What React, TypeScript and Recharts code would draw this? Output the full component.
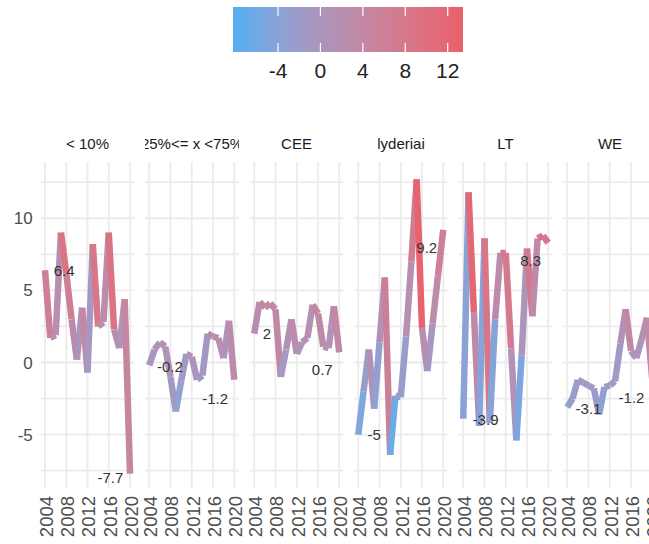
import React from 'react';
import { LineChart, Line, XAxis, YAxis, CartesianGrid, ReferenceDot } from 'recharts';

// values, one per year
const years = [2004, 2005, 2006, 2007, 2008, 2009, 2010, 2011, 2012, 2013, 2014, 2015, 2016, 2017, 2018, 2019, 2020];
const panelNames = ['< 10%', '25%<= x <75%', 'CEE', 'lyderiai', 'LT', 'WE'];
const under10 = [6.4, 1.7, 1.9, 9.0, 6.2, 3.0, 0.2, 3.8, -0.7, 8.2, 2.5, 2.8, 9.0, 2.3, 1.0, 4.4, -7.7];
const mid25to75 = [-0.2, 0.9, 1.4, 1.1, -1.0, -3.4, -1.3, 0.6, 0.4, -1.2, -0.9, 2.0, 1.8, 1.7, 0.3, 2.9, -1.2];
const cee = [2.0, 4.2, 3.8, 4.1, 3.7, -1.0, 0.9, 3.0, 0.6, 1.4, 1.7, 4.0, 3.4, 1.1, 1.0, 3.9, 0.7];
const lyderiai = [-5.0, -2.0, 0.9, -3.2, 1.4, 5.9, -6.4, -2.3, -2.4, 1.8, 7.0, 12.7, 2.4, -0.6, 2.7, 6.0, 9.2];
const lt = [-3.9, 11.8, 3.5, -4.4, 8.6, -4.2, 3.0, 7.6, 7.6, 1.0, -5.4, 0.5, 7.9, 3.2, 8.6, 8.8, 8.3];
const we = [-3.1, -2.5, -1.2, -1.4, -1.6, -1.8, -3.6, -1.7, -1.6, -1.3, 1.3, 3.7, 0.8, 0.3, 1.6, 3.1, -1.2];
const panelValues = [under10, mid25to75, cee, lyderiai, lt, we];

const yearTicks = [2004, 2008, 2012, 2016, 2020];
const valueTicks = [-5, 0, 5, 10];
const gridValues = [-7.5, -5, -2.5, 0, 2.5, 5, 7.5, 10, 12.5];
const legendTicks = [-4, 0, 4, 8, 12];
const colourLimits = [-7.7, 12.9];

// where the first / last value labels sit, relative to their point (years, value units)
const firstNudge = [[3.6, 0], [3.9, -0.05], [2.4, 0], [3.0, 0], [4.2, -0.05], [4.0, -0.1]];
const lastNudge = [[-3.7, -0.3], [-3.6, -1.3], [-3.2, -1.2], [-3.1, -1.2], [-3.3, -1.2], [-3.9, -1.2]];

const LOW = '#58AEEE';
const HIGH = '#E8626E';

const PLOT_LEFT = 40.75;
const PANEL_STEP = 104.5;
const PLOT_W = 93.5;
const AXIS_W = 40.75;
const PAD = 5;
const CHART_TOP = 152;

// --- Lab interpolation like scales::seq_gradient_pal
function hexToRgb(h: string) {
  const n = parseInt(h.slice(1), 16);
  return [(n >> 16) & 255, (n >> 8) & 255, n & 255];
}
const toLin = (c: number) => {
  c /= 255;
  return c <= 0.04045 ? c / 12.92 : Math.pow((c + 0.055) / 1.055, 2.4);
};
const fromLin = (c: number) => {
  const v = c <= 0.0031308 ? 12.92 * c : 1.055 * Math.pow(c, 1 / 2.4) - 0.055;
  return Math.max(0, Math.min(255, Math.round(v * 255)));
};
const f = (t: number) => (t > 0.008856 ? Math.cbrt(t) : 7.787 * t + 16 / 116);
const finv = (t: number) => (t * t * t > 0.008856 ? t * t * t : (t - 16 / 116) / 7.787);
function rgbToLab([r, g, b]: number[]) {
  const R = toLin(r), G = toLin(g), B = toLin(b);
  const X = (0.4124 * R + 0.3576 * G + 0.1805 * B) / 0.95047;
  const Y = 0.2126 * R + 0.7152 * G + 0.0722 * B;
  const Z = (0.0193 * R + 0.1192 * G + 0.9505 * B) / 1.08883;
  return [116 * f(Y) - 16, 500 * (f(X) - f(Y)), 200 * (f(Y) - f(Z))];
}
function labToHex([L, a, b]: number[]) {
  const fy = (L + 16) / 116, fx = fy + a / 500, fz = fy - b / 200;
  const X = finv(fx) * 0.95047, Y = finv(fy), Z = finv(fz) * 1.08883;
  const R = 3.2406 * X - 1.5372 * Y - 0.4986 * Z;
  const G = -0.9689 * X + 1.8758 * Y + 0.0415 * Z;
  const B = 0.0557 * X - 0.204 * Y + 1.057 * Z;
  return '#' + [R, G, B].map((c) => fromLin(c).toString(16).padStart(2, '0')).join('');
}
const lowLab = rgbToLab(hexToRgb(LOW));
const highLab = rgbToLab(hexToRgb(HIGH));
function colour(v: number) {
  const t = Math.max(0, Math.min(1, (v - colourLimits[0]) / (colourLimits[1] - colourLimits[0])));
  return labToHex(lowLab.map((l, i) => l + (highLab[i] - l) * t));
}

const fmt = (v: number) => String(Math.round(v * 10) / 10);

const YearTick = (props: any) => {
  const { x, y, payload } = props;
  return (
    <text x={x} y={y} dy="0.42em" transform={`rotate(-90, ${x}, ${y})`} textAnchor="end" fontSize={18.5} fill="#4d4d4d">
      {payload.value}
    </text>
  );
};

const labelShape = (text: string) => (p: any) => (
  <text x={p.cx} y={p.cy} textAnchor="middle" dominantBaseline="central" fontSize={15} fill="#333">
    {text}
  </text>
);

function Panel({ index }: { index: number }) {
  const values = panelValues[index];
  const withAxis = index === 0;
  const plotLeft = PLOT_LEFT + index * PANEL_STEP;
  const leftPad = withAxis ? 0 : PAD;
  const axisW = withAxis ? AXIS_W : 0;

  // one column per segment so each piece takes the colour of its start point (as ggplot does)
  const rows = years.map((year, j) => {
    const row: any = { year };
    for (let k = 0; k < values.length - 1; k++) {
      if (j === k || j === k + 1) row['s' + k] = values[j];
    }
    return row;
  });

  const n = values.length;
  const first = firstNudge[index];
  const last = lastNudge[index];

  return (
    <>
      <div
        style={{
          position: 'absolute',
          left: plotLeft,
          top: 134,
          width: PLOT_W,
          height: 20,
          overflow: 'hidden',
          display: 'flex',
          justifyContent: 'center',
          whiteSpace: 'nowrap',
          fontSize: 15,
          lineHeight: '20px',
          color: '#1a1a1a',
        }}
      >
        {panelNames[index]}
      </div>
      <div style={{ position: 'absolute', left: plotLeft - axisW - leftPad, top: CHART_TOP }}>
        <LineChart
          width={PLOT_W + axisW + leftPad + PAD}
          height={392}
          data={rows}
          margin={{ top: 10, right: PAD, bottom: 0, left: leftPad }}
        >
          <CartesianGrid horizontalValues={gridValues} verticalValues={yearTicks} stroke="#ebebeb" strokeWidth={1.8} />
          <XAxis
            type="number"
            dataKey="year"
            domain={[2003.2, 2020.8]}
            ticks={yearTicks}
            interval={0}
            tick={<YearTick />}
            tickLine={false}
            axisLine={false}
            height={56}
            allowDataOverflow
          />
          <YAxis
            type="number"
            domain={[-8.7, 13.9]}
            ticks={valueTicks}
            hide={!withAxis}
            width={AXIS_W}
            tickLine={false}
            axisLine={false}
            tick={{ fontSize: 17, fill: '#4d4d4d' }}
            allowDataOverflow
          />
          {values.slice(0, -1).map((v, k) => (
            <Line
              key={k}
              dataKey={'s' + k}
              stroke={colour(v)}
              strokeWidth={6.5}
              strokeLinecap="butt"
              strokeLinejoin="miter"
              dot={false}
              activeDot={false}
              connectNulls={false}
              isAnimationActive={false}
            />
          ))}
          <ReferenceDot
            x={years[0] + first[0]}
            y={values[0] + first[1]}
            r={1}
            shape={labelShape(fmt(values[0]))}
          />
          <ReferenceDot
            x={years[n - 1] + last[0]}
            y={values[n - 1] + last[1]}
            r={1}
            shape={labelShape(fmt(values[n - 1]))}
          />
        </LineChart>
      </div>
    </>
  );
}

function ColourLegend() {
  const barLeft = 13;
  const barW = 230;
  const barTop = 7;
  const barH = 45;
  const half = barW / 40;
  const [lo, hi] = colourLimits;
  const pos = (v: number) => barLeft + half + ((v - lo) / (hi - lo)) * (barW - 2 * half);
  const stops = Array.from({ length: 11 }, (_, i) => lo + ((hi - lo) * i) / 10);
  return (
    <svg width={270} height={85} style={{ position: 'absolute', left: 220, top: 0 }}>
      <defs>
        <linearGradient id="cbar" x1="0" x2="1" y1="0" y2="0">
          <stop offset={0} stopColor={colour(lo)} />
          {stops.map((v, i) => (
            <stop key={i} offset={(pos(v) - barLeft) / barW} stopColor={colour(v)} />
          ))}
          <stop offset={1} stopColor={colour(hi)} />
        </linearGradient>
      </defs>
      <rect x={barLeft} y={barTop} width={barW} height={barH} fill="url(#cbar)" />
      {legendTicks.map((t) => (
        <g key={t}>
          <line x1={pos(t)} x2={pos(t)} y1={barTop} y2={barTop + barH / 5} stroke="#fff" strokeWidth={1.2} />
          <line x1={pos(t)} x2={pos(t)} y1={barTop + barH} y2={barTop + barH - barH / 5} stroke="#fff" strokeWidth={1.2} />
          <text x={pos(t)} y={78} textAnchor="middle" fontSize={21} fill="#222">
            {t}
          </text>
        </g>
      ))}
    </svg>
  );
}

export default function App() {
  return (
    <div
      style={{
        position: 'absolute',
        left: 0,
        top: 0,
        width: 649,
        height: 544,
        overflow: 'hidden',
        background: '#fff',
        fontFamily: '"Liberation Sans", Arial, sans-serif',
      }}
    >
      <ColourLegend />
      {panelNames.map((_, i) => (
        <Panel key={i} index={i} />
      ))}
    </div>
  );
}
